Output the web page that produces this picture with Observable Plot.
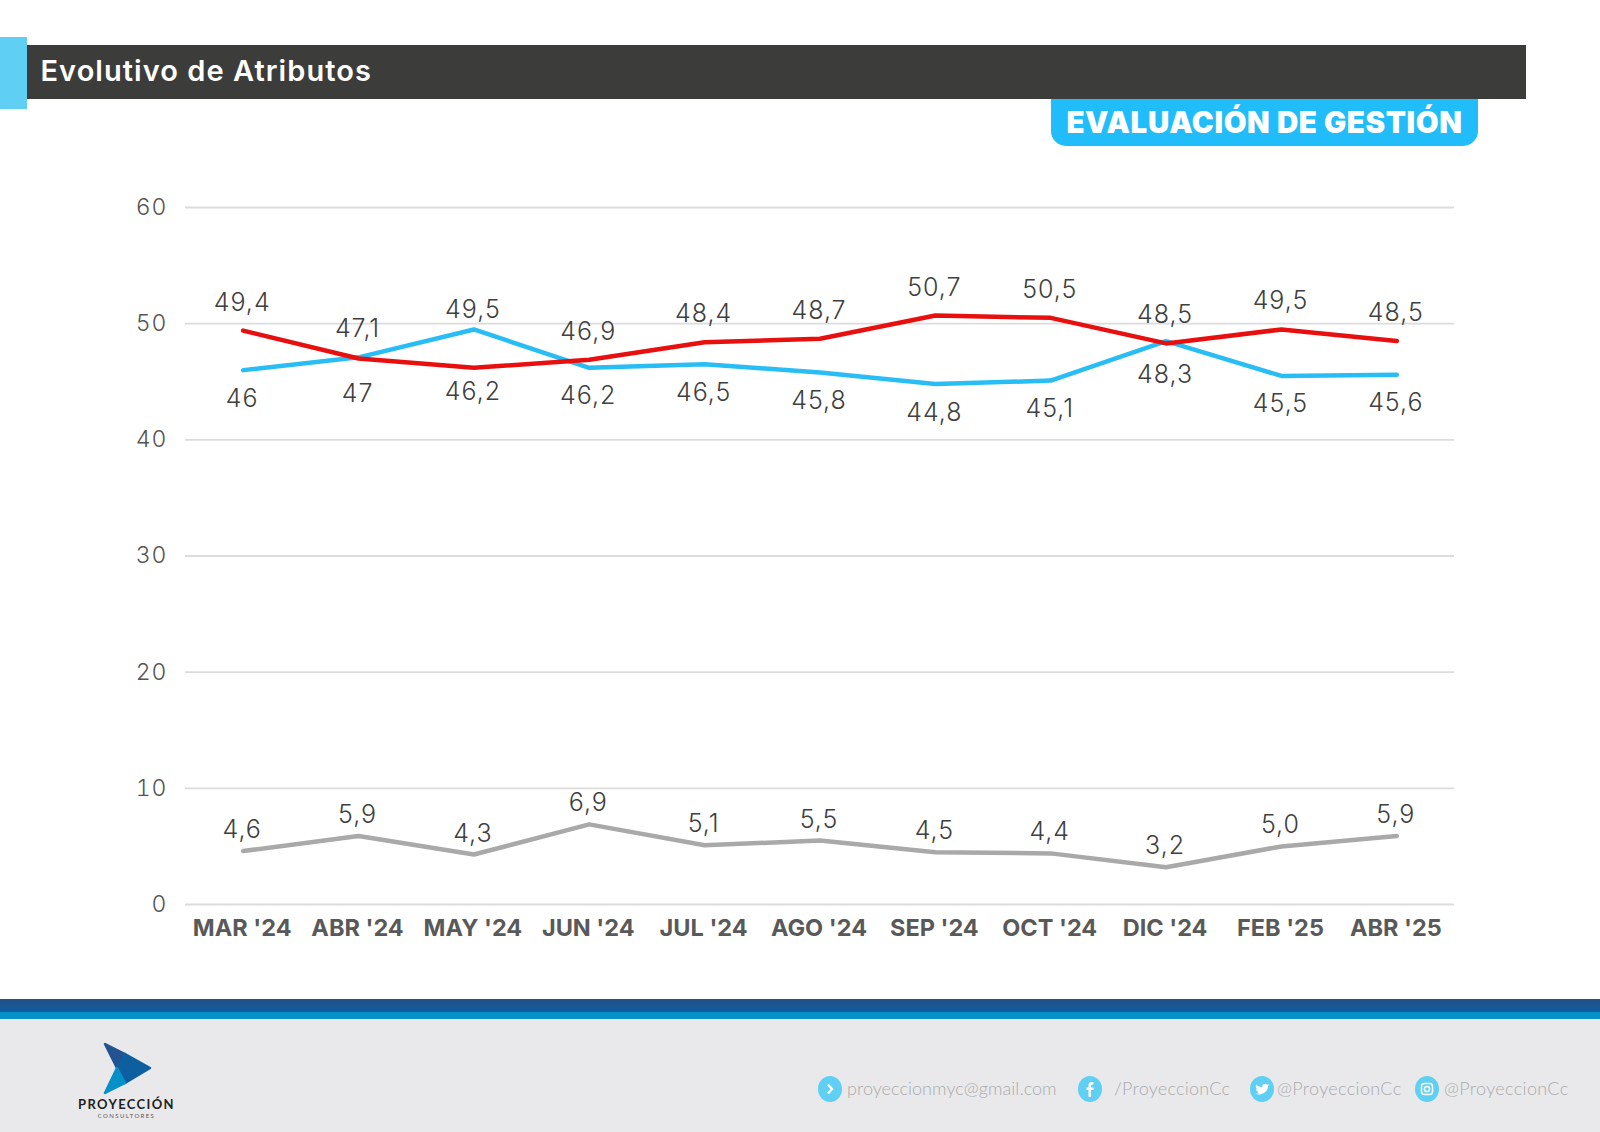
<!DOCTYPE html>
<html lang="es">
<head>
<meta charset="utf-8">
<script src="https://cdn.jsdelivr.net/npm/d3@7"></script>
<script src="https://cdn.jsdelivr.net/npm/@observablehq/plot@0.6"></script>
<style>
html,body{margin:0;padding:0;background:#fff;overflow:hidden}
#page{position:relative;width:1600px;height:1132px;font-family:"Inter",sans-serif}
#page>*{position:absolute}
#accent{left:0;top:37px;width:26.5px;height:72px;background:#5fd0f4}
#bar{left:26.5px;top:45px;width:1499.5px;height:54px;background:#3c3c3b;color:#fff;font-size:29px;font-weight:600;line-height:52px;text-indent:14px;letter-spacing:1.05px}
#pill{left:1051px;top:99px;width:427px;height:47px;background:#21bdfb;border-radius:0 0 15px 15px;color:#fff;font-size:29.5px;font-weight:900;line-height:46px;text-align:center;letter-spacing:.6px}
#chart{left:0;top:150px}
#stripe{left:0;top:999px;width:1600px;height:20px;background:linear-gradient(#23508c 0,#1f5390 5px,#0e5fa0 12.5px,#0590c8 13px,#0590c8 20px)}
#foot{left:0;top:1019px;width:1600px;height:113px;background:#e9e9eb}
#logo{left:70px;top:1038px}
.c{font-family:"Lato",sans-serif;font-weight:300;font-size:18px;color:#a9abae;white-space:nowrap;line-height:24px;letter-spacing:.35px}
.i{width:24px;height:26px}
.val text{letter-spacing:1px}
.tickY text{letter-spacing:1px}
</style>
</head>
<body>
<div id="page">
  <div id="accent"></div>
  <div id="bar">Evolutivo de Atributos</div>
  <div id="pill">EVALUACIÓN DE GESTIÓN</div>
  <div id="chart"></div>
  <div id="stripe"></div>
  <div id="foot"></div>
  <svg id="logo" width="120" height="85" viewBox="0 0 120 85">
    <path d="M35 6 L55 16 L47 30 Z" fill="#235390" stroke="#235390" stroke-width="2.5" stroke-linejoin="round"/>
    <path d="M55 16 L80 30 L55 45 L47 30 Z" fill="#0e5fa0" stroke="#0e5fa0" stroke-width="2.5" stroke-linejoin="round"/>
    <path d="M47 30 L55 45 L35 55 Z" fill="#0590c8" stroke="#0590c8" stroke-width="2.5" stroke-linejoin="round"/>
    <text x="56.5" y="71" text-anchor="middle" font-family="Lato,sans-serif" font-weight="700" font-size="13" letter-spacing="1.35" fill="#231f20">PROYECCIÓN</text>
    <text x="56.5" y="80" text-anchor="middle" font-family="Lato,sans-serif" font-size="6" letter-spacing="1.4" fill="#555">CONSULTORES</text>
  </svg>

  <svg class="i" style="left:818px;top:1076px" viewBox="0 0 24 26"><ellipse cx="12" cy="13" rx="12" ry="13" fill="#5fd0f4"/><path d="M10 8.5 L14 13 L10 17.5" fill="none" stroke="#fff" stroke-width="2.4"/></svg>
  <div class="c" style="left:847px;top:1076px;letter-spacing:.05px">proyeccionmyc@gmail.com</div>

  <svg class="i" style="left:1078px;top:1076px" viewBox="0 0 24 26"><ellipse cx="12" cy="13" rx="12" ry="13" fill="#5fd0f4"/><path d="M13 21 V14 H15.5 V11.5 H13 V10 Q13 8.5 14.5 8.5 H15.5 V6 H13.5 Q10.5 6 10.5 9.5 V11.5 H8.5 V14 H10.5 V21 Z" fill="#fff"/></svg>
  <div class="c" style="left:1114px;top:1076px;letter-spacing:.25px">/ProyeccionCc</div>

  <svg class="i" style="left:1250px;top:1076px" viewBox="0 0 24 26"><ellipse cx="12" cy="13" rx="12" ry="13" fill="#5fd0f4"/><path d="M5 17.5 Q9 19.5 13 17.5 Q18 15 18 10 L19.5 8.5 L17.5 8.8 Q15.5 7 13.5 8.3 Q11.8 9.5 12.2 11.2 Q8.5 11 6 8.5 Q5 11 7 13 L5.8 12.8 Q6 15 8.2 15.6 L7 15.7 Q7.8 17 9.5 17 Q7.5 18 5 17.5 Z" fill="#fff"/></svg>
  <div class="c" style="left:1277px;top:1076px">@ProyeccionCc</div>

  <svg class="i" style="left:1415px;top:1076px" viewBox="0 0 24 26"><ellipse cx="12" cy="13" rx="12" ry="13" fill="#5fd0f4"/><rect x="6.5" y="7.5" width="11" height="11" rx="3" fill="none" stroke="#fff" stroke-width="1.5"/><circle cx="12" cy="13" r="2.6" fill="none" stroke="#fff" stroke-width="1.5"/></svg>
  <div class="c" style="left:1444px;top:1076px">@ProyeccionCc</div>
</div>
<script>
const months = ["MAR '24","ABR '24","MAY '24","JUN '24","JUL '24","AGO '24","SEP '24","OCT '24","DIC '24","FEB '25","ABR '25"];
const azul = [46,47.1,49.5,46.2,46.5,45.8,44.8,45.1,48.5,45.5,45.6];
const rojo = [49.4,47,46.2,46.9,48.4,48.7,50.7,50.5,48.3,49.5,48.5];
const gris = [4.6,5.9,4.3,6.9,5.1,5.5,4.5,4.4,3.2,5.0,5.9];
const labelsGris = ["4,6","5,9","4,3","6,9","5,1","5,5","4,5","4,4","3,2","5,0","5,9"];
const labelsAzul = ["46","47,1","49,5","46,2","46,5","45,8","44,8","45,1","48,5","45,5","45,6"];
const labelsRojo = ["49,4","47","46,2","46,9","48,4","48,7","50,7","50,5","48,3","49,5","48,5"];
const yTicks = [0,10,20,30,40,50,60];

const colors = {azul:"#29bdf5", rojo:"#e8100f", gris:"#a9a9a9"};
const toRows = (serie, values, labels) => values.map((v,i)=>({serie, month:months[i], v, label:labels[i], i}));
const rows = [...toRows("azul",azul,labelsAzul), ...toRows("rojo",rojo,labelsRojo), ...toRows("gris",gris,labelsGris)];

// label placement: the higher series sits above its point, the lower below; grey always above.
const placement = d => {
  if (d.serie==="gris") return -21;
  const other = d.serie==="azul" ? rojo[d.i] : azul[d.i];
  if (d.v>other) {
    if (d.i===2) return -19;
    if (d.i===8) return -26;
    return -28;
  }
  if (d.i===1) return 35;
  if (d.i===8) return 32;
  if (d.i===2) return 24;
  return 28.5;
};
const labelGroups = d3.groups(rows, placement);

const plot = Plot.plot({
  width:1600, height:850,
  marginLeft:185, marginRight:146, marginTop:57, marginBottom:96,
  style:{background:"transparent", fontFamily:"Inter, sans-serif"},
  x:{type:"point", domain:months, padding:0.5, round:false},
  y:{domain:[0,60]},
  marks:[
    Plot.ruleY(yTicks,{stroke:"#dcdcdc", strokeWidth:1.8}),
    Plot.axisY({ticks:yTicks, tickSize:0, tickPadding:0, marginLeft:0, dx:-18, fontSize:23, fontWeight:300, color:"#555", label:null, textAnchor:"end", stroke:"none", className:"tickY"}),
    Plot.axisX({tickSize:0, tickPadding:15, dx:-1, fontSize:23.5, fontWeight:700, color:"#595959", label:null}),
    ...["azul","gris","rojo"].map(s=>Plot.line(rows.filter(d=>d.serie===s),{x:"month",y:"v",stroke:colors[s],strokeWidth:4.5,curve:"linear"})),
    ...labelGroups.map(([dy,g])=>Plot.text(g,{x:"month",y:"v",text:"label",dy,dx:-1,fontSize:25,fontWeight:300,fill:"#404040",className:"val"}))
  ]
});
document.getElementById("chart").appendChild(plot);
</script>
</body>
</html>
